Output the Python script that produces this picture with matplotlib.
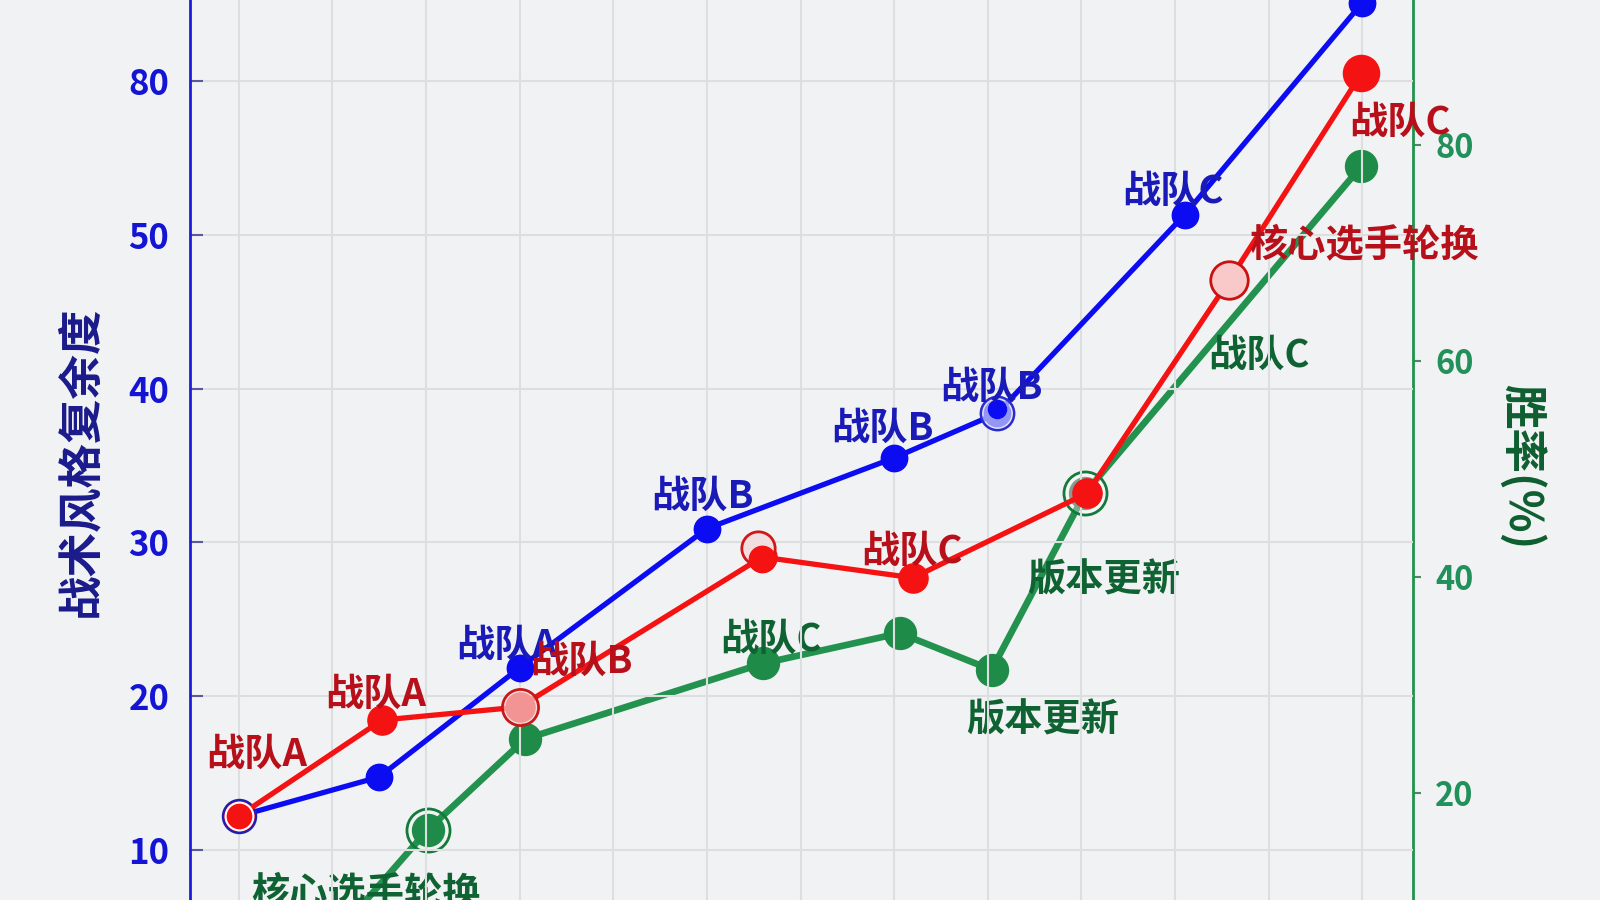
import matplotlib
matplotlib.use('Agg')
import matplotlib.pyplot as plt

plt.rcParams['font.family'] = ['Noto Sans CJK SC', 'DejaVu Sans']
plt.rcParams['font.weight'] = 'bold'

# 数据（横轴为网格单位）
blue_x = [0, 1.5, 3, 5, 7, 8.1, 10.1, 12]
blue_y = [12.2, 14.75, 21.85, 30.9, 35.5, 38.4, 51.3, 65.1]
red_x = [0, 1.53, 3, 5.59, 7.2, 9.06, 10.58, 11.99]
red_y = [12.2, 18.45, 19.3, 29.05, 27.7, 33.2, 47.06, 60.5]
green_x = [1.01, 2.02, 3.06, 5.6, 7.06, 8.04, 9.04, 11.99]
green_y = [6.6, 16.6, 25.0, 32.0, 34.8, 31.4, 47.8, 78.06]

left_ticks = [10, 20, 30, 40, 50, 60]
left_tick_labels = ['10', '20', '30', '40', '50', '80']
right_ticks = [20, 40, 60, 80]
x_grid = list(range(13))

left_label = '战术风格复余度'
right_label = '胜率(%)'

# 标注：文字, x, y
blue_notes = [('战队A', 2.86, 23.33), ('战队B', 4.95, 33.0), ('战队B', 6.87, 37.44),
              ('战队B', 8.04, 40.1), ('战队C', 9.98, 52.85)]
red_notes = [('战队A', 0.19, 16.2), ('战队A', 1.46, 20.1), ('战队B', 3.66, 22.3),
             ('战队C', 7.19, 29.4), ('核心选手轮换', 12.02, 49.3), ('战队C', 12.4, 57.3)]
green_notes = [('战队C', 5.68, 34.2), ('版本更新', 9.24, 39.7), ('版本更新', 8.58, 26.8),
               ('战队C', 10.89, 60.5), ('核心选手轮换', 1.36, 10.65)]

BG = '#f1f2f3'
BLUE = '#0c0cf2'
RED = '#f41212'
GREEN = '#23924f'

fig = plt.figure(figsize=(16, 9), dpi=100, facecolor=BG)
ax = fig.add_axes([190 / 1600, 0, 1223 / 1600, 1])
ax2 = ax.twinx()
ax.set_zorder(ax2.get_zorder() + 1)
ax.patch.set_visible(False)
ax2.set_facecolor(BG)

ax.set_xlim(-0.52, 12.54)
ax.set_ylim(6.75, 65.27)
ax2.set_ylim(10.09, 93.43)

ax.set_xticks(x_grid)
ax.tick_params(axis='x', length=0, labelbottom=False)
ax.set_yticks(left_ticks)
ax.set_yticklabels(left_tick_labels)
ax.tick_params(axis='y', direction='in', length=9, width=1.5, color='#5a5a9a',
               labelsize=25, labelcolor='#1414d4', pad=15)
ax2.set_yticks(right_ticks)
ax2.tick_params(axis='y', direction='out', length=6, width=1.5, color='#4a8a60',
                labelsize=23.5, labelcolor='#21905a', pad=10)
ax.grid(True, color='#dcdee0', linewidth=1.5)

for a in (ax, ax2):
    a.spines['top'].set_visible(False)
    a.spines['bottom'].set_visible(False)
ax.spines['right'].set_visible(False)
ax2.spines['left'].set_visible(False)
ax.spines['left'].set_color('#1c1ce0')
ax.spines['left'].set_linewidth(2)
ax2.spines['right'].set_color('#23924f')
ax2.spines['right'].set_linewidth(2)

# 绿色（右轴）
ax2.plot(green_x, green_y, color=GREEN, lw=4.8, marker='o', ms=23,
         mfc='#1e8c48', mec='#1e8c48', solid_capstyle='round')
ax2.plot(green_x[1], green_y[1], 'o', ms=31, mfc='none', mec='#137a3a', mew=2)
ax2.plot(green_x[6], green_y[6], 'o', ms=22, mfc='#4f6a58', mec='#4f6a58')
ax2.plot(green_x[6], green_y[6], 'o', ms=31, mfc='#ffffff55', mec='#137a3a', mew=2)

# 蓝色
ax.plot(blue_x, blue_y, color=BLUE, lw=3.8, marker='o', ms=19, mfc=BLUE, mec=BLUE)
ax.plot(blue_x[0], blue_y[0], 'o', ms=24, mfc=BLUE, mec='#2020b0', mew=1.5)
ax.plot(blue_x[5], blue_y[5], 'o', ms=24, mfc='#d8def5aa', mec='#2a2ad0', mew=1.8)
ax.plot(blue_x[5], blue_y[5] + 0.3, 'o', ms=13, mfc=BLUE, mec=BLUE)

# 红色
ax.plot(red_x, red_y, color=RED, lw=3.8, marker='o', ms=21, mfc=RED, mec=RED)
ax.plot(red_x[0], red_y[0], 'o', ms=20, mfc=RED, mec='white', mew=1.5)
ax.plot(red_x[2], red_y[2], 'o', ms=26, mfc='#f3d6d6aa', mec='#c81818', mew=2)
ax.plot(red_x[3] - 0.04, red_y[3] + 0.6, 'o', ms=24, mfc='#f1dede', mec='#d01818', mew=2)
ax.plot(red_x[3], red_y[3] - 0.1, 'o', ms=19, mfc=RED, mec=RED)
ax.plot(red_x[6], red_y[6], 'o', ms=27, mfc='#f9c9c9', mec='#cc1010', mew=2)
ax.plot(red_x[7], red_y[7], 'o', ms=26, mfc=RED, mec=RED)

for t, x, y in blue_notes:
    ax.text(x, y, t, color='#1a1ab8', fontsize=27.5, fontweight='bold',
            ha='center', va='center', zorder=5)
for t, x, y in red_notes:
    ax.text(x, y, t, color='#b8101a', fontsize=27.5, fontweight='bold',
            ha='center', va='center', zorder=5)
for t, x, y in green_notes:
    ax2.text(x, y, t, color='#0f6232', fontsize=27.5, fontweight='bold',
             ha='center', va='center', zorder=5)

ax.set_ylabel(left_label, fontsize=32, fontweight='bold', color='#1a1a8c')
ax.yaxis.set_label_coords(-0.071, 0.487)
ax2.set_ylabel(right_label, fontsize=32, fontweight='bold', color='#0e5e30', rotation=270)
ax2.yaxis.set_label_coords(1.108, 0.481)

fig.savefig('out.png', dpi=100, facecolor=BG)
